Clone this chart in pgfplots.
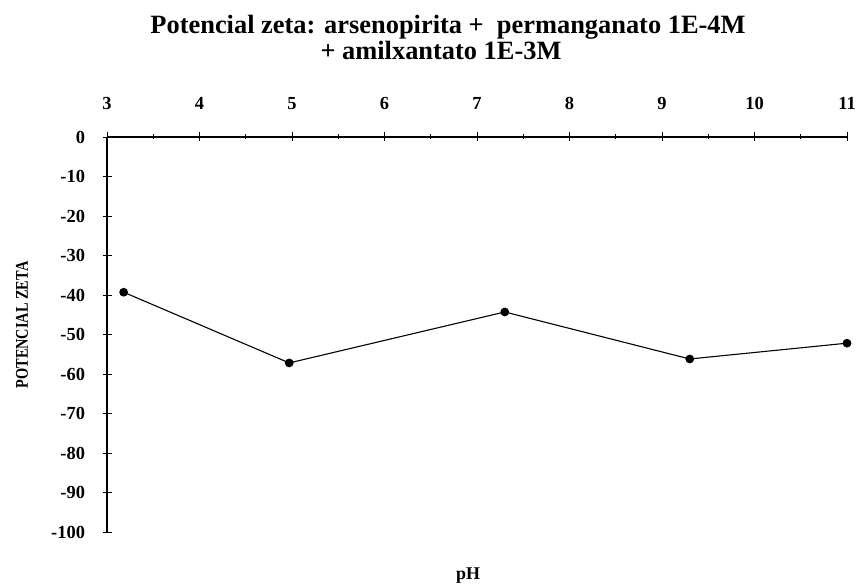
\documentclass[border=0pt]{standalone}
\usepackage{fontspec}
\setmainfont{Liberation Serif}
\newfontfamily\condf[FakeStretch=0.8]{Liberation Serif}
\usepackage{pgfplots}
\pgfplotsset{compat=1.18}
\begin{document}
\begin{tikzpicture}[x=1bp,y=1bp]
\useasboundingbox (0,0) rectangle (859,587);
\begin{axis}[at={(107bp,55bp)}, anchor=south west, scale only axis,
  width=740bp, height=395bp,
  xmin=3, xmax=11, ymin=-100, ymax=0,
  axis x line=top, axis y line=left,
  axis line style={-, line width=1.1bp, black},
  xtick={3,...,11}, minor x tick num=1, ytick={-100,-90,...,0},
  tick align=center, major tick length=9bp, minor tick length=5bp,
  tick style={black, line width=0.8bp},
  ticklabel style={font=\fontsize{18.5}{18.5}\selectfont\bfseries},
  xticklabel style={yshift=19bp}, yticklabel style={xshift=-14bp},
  /pgf/number format/assume math mode=true,
  clip=false]
\addplot[black, line width=1.1bp, mark=*, mark size=3.8bp] coordinates {
  (3.18,-39.3) (4.97,-57.2) (7.3,-44.3) (9.3,-56.2) (11.0,-52.2)};
\end{axis}
\node[font=\fontsize{26.5}{26.5}\selectfont\bfseries, anchor=base] at (448,553) {Potencial zeta: arsenopirita +\ \ permanganato 1E-4M};
\node[font=\fontsize{26.5}{26.5}\selectfont\bfseries, anchor=base] at (441,527) {+ amilxantato 1E-3M};
\node[font=\fontsize{18}{18}\selectfont\condf\bfseries, rotate=90] at (22,262) {POTENCIAL ZETA};
\node[font=\fontsize{18}{18}\selectfont\bfseries] at (468,11) {pH};
\end{tikzpicture}
\end{document}
